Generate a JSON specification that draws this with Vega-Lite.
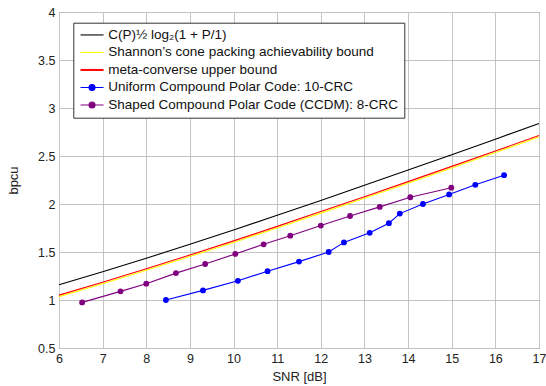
{
  "$schema": "https://vega.github.io/schema/vega-lite/v6.json",
  "width": 480,
  "height": 336,
  "autosize": {"type": "none"},
  "padding": {"left": 59, "top": 12, "right": 7, "bottom": 38},
  "config": {
    "font": "Liberation Sans",
    "view": {"stroke": "#222222", "strokeWidth": 1},
    "axis": {
      "domain": false,
      "ticks": false,
      "grid": true,
      "gridColor": "#c4c4c4",
      "gridWidth": 1,
      "labelFont": "Liberation Sans",
      "labelFontSize": 12.5,
      "labelColor": "#222222",
      "titleFont": "Liberation Sans",
      "titleFontSize": 13,
      "titleFontWeight": "normal",
      "titleColor": "#222222",
      "labelFlush": false,
      "labelOverlap": false
    }
  },
  "data": {
    "values": [
      {"series": "C", "snr": 6, "r": 1.1582},
      {"series": "C", "snr": 7, "r": 1.2939},
      {"series": "C", "snr": 8, "r": 1.4349},
      {"series": "C", "snr": 9, "r": 1.5804},
      {"series": "C", "snr": 10, "r": 1.7297},
      {"series": "C", "snr": 11, "r": 1.8822},
      {"series": "C", "snr": 12, "r": 2.0373},
      {"series": "C", "snr": 13, "r": 2.1945},
      {"series": "C", "snr": 14, "r": 2.3535},
      {"series": "C", "snr": 15, "r": 2.5139},
      {"series": "C", "snr": 16, "r": 2.6754},
      {"series": "C", "snr": 17, "r": 2.8379},
      {"series": "Shannon", "snr": 6, "r": 1.035},
      {"series": "Shannon", "snr": 7, "r": 1.169},
      {"series": "Shannon", "snr": 8, "r": 1.309},
      {"series": "Shannon", "snr": 9, "r": 1.453},
      {"series": "Shannon", "snr": 10, "r": 1.600},
      {"series": "Shannon", "snr": 11, "r": 1.751},
      {"series": "Shannon", "snr": 12, "r": 1.905},
      {"series": "Shannon", "snr": 13, "r": 2.060},
      {"series": "Shannon", "snr": 14, "r": 2.217},
      {"series": "Shannon", "snr": 15, "r": 2.376},
      {"series": "Shannon", "snr": 16, "r": 2.536},
      {"series": "Shannon", "snr": 17, "r": 2.697},
      {"series": "Meta", "snr": 6, "r": 1.051},
      {"series": "Meta", "snr": 7, "r": 1.185},
      {"series": "Meta", "snr": 8, "r": 1.325},
      {"series": "Meta", "snr": 9, "r": 1.469},
      {"series": "Meta", "snr": 10, "r": 1.616},
      {"series": "Meta", "snr": 11, "r": 1.767},
      {"series": "Meta", "snr": 12, "r": 1.921},
      {"series": "Meta", "snr": 13, "r": 2.076},
      {"series": "Meta", "snr": 14, "r": 2.233},
      {"series": "Meta", "snr": 15, "r": 2.392},
      {"series": "Meta", "snr": 16, "r": 2.552},
      {"series": "Meta", "snr": 17, "r": 2.713},
      {"series": "Uniform", "snr": 8.45, "r": 1.0},
      {"series": "Uniform", "snr": 9.30, "r": 1.1},
      {"series": "Uniform", "snr": 10.1, "r": 1.2},
      {"series": "Uniform", "snr": 10.78, "r": 1.3},
      {"series": "Uniform", "snr": 11.5, "r": 1.4},
      {"series": "Uniform", "snr": 12.18, "r": 1.5},
      {"series": "Uniform", "snr": 12.53, "r": 1.6},
      {"series": "Uniform", "snr": 13.12, "r": 1.7},
      {"series": "Uniform", "snr": 13.56, "r": 1.8},
      {"series": "Uniform", "snr": 13.81, "r": 1.9},
      {"series": "Uniform", "snr": 14.34, "r": 2.0},
      {"series": "Uniform", "snr": 14.94, "r": 2.1},
      {"series": "Uniform", "snr": 15.54, "r": 2.2},
      {"series": "Uniform", "snr": 16.2, "r": 2.3},
      {"series": "Shaped", "snr": 6.53, "r": 0.975},
      {"series": "Shaped", "snr": 7.41, "r": 1.09},
      {"series": "Shaped", "snr": 8.0, "r": 1.17},
      {"series": "Shaped", "snr": 8.68, "r": 1.28},
      {"series": "Shaped", "snr": 9.35, "r": 1.375},
      {"series": "Shaped", "snr": 10.04, "r": 1.48},
      {"series": "Shaped", "snr": 10.69, "r": 1.58},
      {"series": "Shaped", "snr": 11.30, "r": 1.67},
      {"series": "Shaped", "snr": 12.0, "r": 1.775},
      {"series": "Shaped", "snr": 12.67, "r": 1.875},
      {"series": "Shaped", "snr": 13.35, "r": 1.97},
      {"series": "Shaped", "snr": 14.05, "r": 2.07},
      {"series": "Shaped", "snr": 14.99, "r": 2.17}
    ]
  },
  "transform": [
    {"lookup": "series", "from": {"data": {"values": [
      {"series": "C", "label": "C(P)½ log₂(1 + P/1)", "ord": 1},
      {"series": "Shannon", "label": "Shannon’s cone packing achievability bound", "ord": 2},
      {"series": "Meta", "label": "meta-converse upper bound", "ord": 3},
      {"series": "Uniform", "label": "Uniform Compound Polar Code: 10-CRC", "ord": 4},
      {"series": "Shaped", "label": "Shaped Compound Polar Code (CCDM): 8-CRC", "ord": 5}
    ]}, "key": "series", "fields": ["label", "ord"]}}
  ],
  "encoding": {
    "x": {
      "field": "snr", "type": "quantitative",
      "scale": {"domain": [6, 17], "nice": false, "zero": false},
      "axis": {"values": [6,7,8,9,10,11,12,13,14,15,16,17], "title": "SNR [dB]", "labelPadding": 4, "titlePadding": 6}
    },
    "y": {
      "field": "r", "type": "quantitative",
      "scale": {"domain": [0.5, 4], "nice": false, "zero": false},
      "axis": {"values": [0.5,1,1.5,2,2.5,3,3.5,4], "format": "~g", "title": "bpcu", "labelPadding": 4, "titlePadding": 17}
    },
    "color": {
      "field": "label", "type": "nominal",
      "scale": {
        "domain": ["C(P)½ log₂(1 + P/1)", "Shannon’s cone packing achievability bound", "meta-converse upper bound", "Uniform Compound Polar Code: 10-CRC", "Shaped Compound Polar Code (CCDM): 8-CRC"],
        "range": ["#000000", "#ffff00", "#ff0000", "#0000ff", "#800080"]
      }
    }
  },
  "layer": [
    {
      "mark": {"type": "line", "strokeWidth": 1.1},
      "encoding": {
        "order": {"field": "snr", "type": "quantitative"},
        "detail": {"field": "ord", "type": "ordinal"},
        "color": {
          "field": "label", "type": "nominal",
          "legend": {
            "title": null,
            "orient": "none",
            "legendX": 14.3,
            "legendY": 10.7,
            "direction": "vertical",
            "fillColor": "#ffffff",
            "strokeColor": "#333333",
            "padding": 5.5,
            "cornerRadius": 0,
            "labelFont": "Liberation Sans",
            "labelFontSize": 13.5,
            "labelColor": "#111111",
            "labelLimit": 400,
            "symbolSize": 100,
            "symbolStrokeWidth": 1.1,
            "rowPadding": 2.5,
            "labelOffset": 16,
            "encode": {
              "symbols": {
                "update": {
                  "shape": {"signal": "indexof(['Uniform Compound Polar Code: 10-CRC','Shaped Compound Polar Code (CCDM): 8-CRC'], datum.value) >= 0 ? 'M-1,0H3.6M1.9,0A0.6,0.6 0 1,1 0.7,0A0.6,0.6 0 1,1 1.9,0' : 'M-1,0H3.6'"},
                  "fill": {"signal": "scale('color', datum.value)"},
                  "stroke": {"signal": "datum.value == 'meta-converse upper bound' ? '#ff8c8c' : scale('color', datum.value)"},
                  "strokeWidth": {"signal": "datum.value == 'meta-converse upper bound' ? 2 : 1.1"},
                  "opacity": {"value": 1}
                }
              }
            }
          }
        }
      }
    },
    {
      "transform": [{"filter": "datum.ord >= 4"}],
      "mark": {"type": "point", "filled": true, "size": 34, "opacity": 1},
      "encoding": {
        "color": {"field": "label", "type": "nominal", "legend": null}
      }
    }
  ]
}
